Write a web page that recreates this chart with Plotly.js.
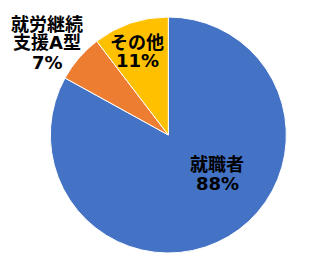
<!DOCTYPE html>
<html>
<head>
<meta charset="utf-8">
<script src="https://cdn.plot.ly/plotly-3.0.1.min.js"></script>
<style>
  html, body { margin: 0; padding: 0; background: #fff; }
  #chart { width: 335px; height: 270px; }
</style>
</head>
<body>
<div id="chart"></div>
<script>
// 進路の内訳（%）
const categories = ['就職者', '就労継続支援A型', 'その他'];
const shares = [88, 7, 11];
const sliceColors = ['#4472C4', '#ED7D31', '#FFC000'];

// ラベルの改行位置（カテゴリ名をこの文字数で折り返す）
const labelBreaks = [[3], [4], [3]];

// ラベル中心の位置（px、左上基準）と行間
const W = 335, H = 270;
const labelCenters = [[217, 173.5], [47, 43], [137, 51.5]];
const lineGap = 19;

const labelFont = {
  family: '"DejaVu Sans", "Noto Sans CJK JP", sans-serif',
  size: 18,
  color: '#000000',
  weight: 'bold'
};

const trace = {
  type: 'pie',
  labels: categories,
  values: shares,
  sort: false,
  direction: 'clockwise',
  rotation: 0,
  marker: { colors: sliceColors, line: { color: '#ffffff', width: 1 } },
  textposition: 'none',
  hoverinfo: 'none',
  domain: { x: [0.150, 0.855], y: [0.063, 0.937] }
};

// 各スライスのラベル：カテゴリ名（折り返し）＋値の%表記
const annotations = [];
categories.forEach((name, i) => {
  const lines = [];
  let start = 0;
  labelBreaks[i].forEach(b => {
    if (b < name.length) { lines.push(name.slice(start, b)); start = b; }
  });
  lines.push(name.slice(start));
  lines.push(shares[i] + '%');
  const [cx, cy] = labelCenters[i];
  const top = cy - (lines.length - 1) * lineGap / 2;
  lines.forEach((t, k) => {
    annotations.push({
      xref: 'paper', yref: 'paper',
      x: cx / W, y: 1 - (top + k * lineGap) / H,
      xanchor: 'center', yanchor: 'middle',
      text: t, showarrow: false,
      font: labelFont
    });
  });
});

const layout = {
  width: W,
  height: H,
  margin: { l: 0, r: 0, t: 0, b: 0 },
  paper_bgcolor: '#ffffff',
  showlegend: false,
  annotations: annotations
};

Plotly.newPlot('chart', [trace], layout, { staticPlot: true, displayModeBar: false });
</script>
</body>
</html>
